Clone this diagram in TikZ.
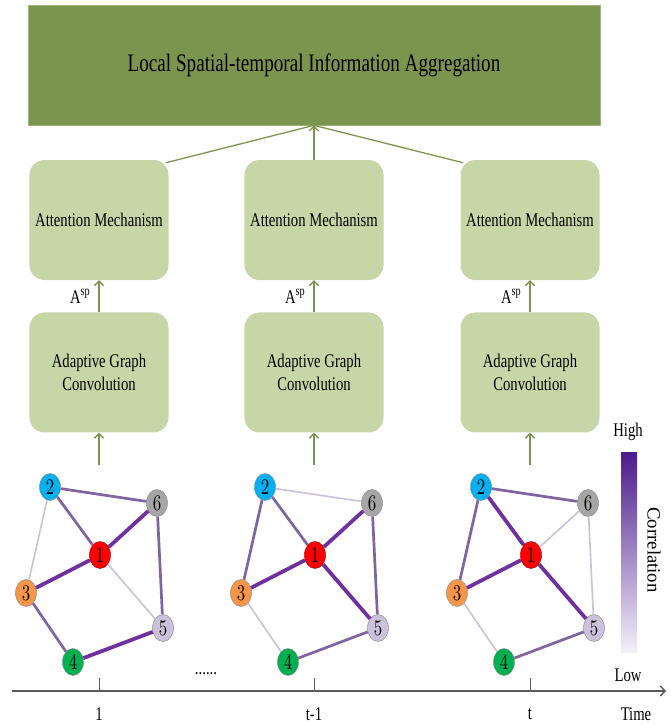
\documentclass[tikz,border=0pt]{standalone}
\usepackage{fontspec}
\setmainfont[FakeStretch=0.76]{Liberation Serif}
\newfontfamily\plainserif{Liberation Serif}
\newfontfamily\digitfont[FakeStretch=0.76]{lmroman10-regular.otf}
\usetikzlibrary{arrows.meta, positioning, shapes.geometric}

\definecolor{aggDark}{HTML}{7B944E}
\definecolor{aggEdge}{HTML}{9DB57A}
\definecolor{boxLight}{HTML}{C6D6A6}
\definecolor{edgeHigh}{HTML}{7030A0}
\definecolor{edgeMid}{HTML}{8064A2}
\definecolor{edgeLow}{HTML}{CCC1DA}
\definecolor{cRed}{HTML}{FF0000}
\definecolor{cBlue}{HTML}{00B0F0}
\definecolor{cOrange}{HTML}{F79646}
\definecolor{cGreen}{HTML}{00B050}
\definecolor{cLav}{HTML}{CCC1DA}
\definecolor{cGray}{HTML}{A6A6A6}
\definecolor{nodeEdge}{HTML}{8C8C8C}
\definecolor{axisGray}{HTML}{595959}
\definecolor{barTop}{HTML}{4B1B8E}
\definecolor{barMid}{HTML}{7B6DB6}
\definecolor{barBottom}{HTML}{F3F0F8}

\begin{document}
\begin{tikzpicture}[
x=0.03cm, y=-0.03cm,
every node/.style={font=\fontsize{16.5}{19}\selectfont},
block/.style={fill=boxLight, rounded corners=0.45cm, minimum width=4.17cm, minimum height=3.6cm, align=center, inner sep=0pt},
aggbox/.style={fill=aggDark, draw=aggEdge, line width=0.6pt, minimum width=17.16cm, minimum height=3.6cm, font=\fontsize{21.5}{24}\selectfont},
gnode/.style={ellipse, draw=nodeEdge, line width=0.4pt, minimum width=0.63cm, minimum height=0.81cm, inner sep=0pt, font=\digitfont\fontsize{19}{19}\selectfont},
arrow/.style={-{Straight Barb[length=1.4mm, width=2.8mm]}, draw=aggDark, line width=1.1pt},
link/.style={draw=aggDark, line width=1.1pt},
wHigh/.style={draw=edgeHigh, line width=3.2pt},
wMid/.style={draw=edgeMid, line width=2.3pt},
wLow/.style={draw=edgeLow, line width=1.4pt}
]
\useasboundingbox (0,0) rectangle (671,725);

\node[aggbox] (agg) at (314,65) {Local Spatial-temporal Information Aggregation};

\foreach \i/\cx in {1/99, 2/314, 3/530} {
  \node[block] (att\i) at (\cx,220) {Attention Mechanism};
  \node[block, below=0.96cm of att\i] (adap\i) {Adaptive Graph\\Convolution};
  \draw[arrow] (adap\i) -- node[left, xshift=-0.12cm] {A\textsuperscript{sp}} (att\i);
  \coordinate (src\i) at (\cx,465);
  \draw[arrow] (src\i) -- (adap\i);
}

\draw[arrow] (att2) -- (agg);
\draw[link] ([xshift=-0.09cm, yshift=-0.09cm]att1.north east) -- (agg.south);
\draw[link] ([xshift=0.09cm, yshift=-0.09cm]att3.north west) -- (agg.south);

\foreach \g/\cx in {l/99, m/314, r/530} {
  \node[gnode, fill=cRed, draw=red!70!black] (\g1) at (\cx+1,555) {1};
  \node[gnode, fill=cBlue] (\g2) at (\cx-49,487) {2};
  \node[gnode, fill=cOrange] (\g3) at (\cx-73,593) {3};
  \node[gnode, fill=cGreen] (\g4) at (\cx-26,662) {4};
  \node[gnode, fill=cLav] (\g5) at (\cx+64,628) {5};
  \node[gnode, fill=cGray] (\g6) at (\cx+58,503) {6};
}

\foreach \u/\v/\w in {2/6/wMid, 2/1/wMid, 2/3/wLow, 1/6/wHigh, 1/3/wHigh, 1/5/wLow, 6/5/wMid, 3/4/wMid, 4/5/wHigh}
  \draw[\w] (l\u) -- (l\v);
\foreach \u/\v/\w in {2/6/wLow, 2/1/wMid, 2/3/wMid, 1/6/wHigh, 1/3/wHigh, 1/5/wHigh, 6/5/wMid, 3/4/wLow, 4/5/wMid}
  \draw[\w] (m\u) -- (m\v);
\foreach \u/\v/\w in {2/6/wMid, 2/1/wHigh, 2/3/wMid, 1/6/wLow, 1/3/wHigh, 1/5/wHigh, 6/5/wLow, 3/4/wLow, 4/5/wMid}
  \draw[\w] (r\u) -- (r\v);

\node (dots) at (206,674) {......};

\coordinate (axStart) at (12,691);
\coordinate (axEnd) at (666,691);
\draw[-{Straight Barb[length=1.4mm, width=3mm]}, draw=axisGray, line width=1.2pt] (axStart) -- (axEnd);
\foreach \i/\cx/\lab in {1/99/1, 2/314/t-1, 3/530/t} {
  \coordinate (tick\i) at (\cx,678);
  \coordinate (foot\i) at (\cx,691);
  \draw[axisGray, line width=0.8pt] (tick\i) -- (foot\i);
  \node (time\i) at (\cx,714) {\lab};
}
\node (timelab) at (636,714) {Time};

\shade[top color=barTop, middle color=barMid, bottom color=barBottom] (621,452) rectangle (637,652);
\node (high) at (628,432) {High};
\node (low) at (628,675) {Low};
\node[rotate=-90, font=\plainserif\fontsize{16}{18}\selectfont] (corr) at (654,550) {Correlation};

\end{tikzpicture}
\end{document}
